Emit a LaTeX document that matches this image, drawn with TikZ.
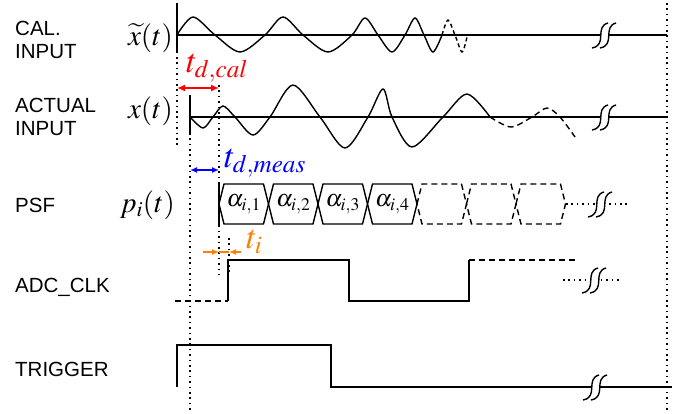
\documentclass[tikz,border=0pt]{standalone}
\usepackage{mathptmx}
\usepackage{fontspec}
\setmainfont{Liberation Sans}
\usepackage{tikz}
\usetikzlibrary{arrows.meta}
\definecolor{calred}{RGB}{255,0,0}
\definecolor{measblue}{RGB}{0,0,255}
\definecolor{tiorange}{RGB}{255,128,0}
\tikzset{
  sig/.style={line width=1.4pt, color=black},
  sigdash/.style={sig, dash pattern=on 6pt off 4pt},
  guide/.style={line width=1.2pt, dash pattern=on 1.6pt off 3.8pt},
  rowname/.style={anchor=base west, align=left, inner sep=0pt,
    font=\fontsize{20.5}{23}\selectfont},
  signame/.style={anchor=base east, inner sep=0pt, font=\fontsize{29}{31}\selectfont},
  cell/.style={inner sep=0pt, font=\fontsize{24}{26}\selectfont},
  delay/.style={anchor=base west, inner sep=0pt, font=\fontsize{34}{36}\selectfont},
  redarrow/.style={{Latex[length=8pt,width=7pt]}-{Latex[length=8pt,width=7pt]},
    line width=1.5pt, color=calred},
  bluearrow/.style={{Latex[length=7pt,width=6pt]}-{Latex[length=7pt,width=6pt]},
    line width=1.5pt, color=measblue},
  orarrow/.style={-{Latex[length=7pt,width=6pt]}, line width=1.5pt, color=tiorange}
}
\newcommand{\axisbreak}[1]{%
  \begin{scope}[shift={#1}]
    \fill[white] (-8,13) .. controls (8,10) and (-6,-8) .. (8,-12)
      -- (16,-12) .. controls (2,-8) and (16,10) .. (0,13) -- cycle;
    \draw[sig] (-8,13) .. controls (8,10) and (-6,-8) .. (8,-12);
    \draw[sig] (0,13) .. controls (16,10) and (2,-8) .. (16,-12);
  \end{scope}}

\begin{document}
\begin{tikzpicture}[x=1pt, y=-1pt]
  \useasboundingbox (0,0) rectangle (686,413);

  \node[rowname] (calname) at (15,58) {CAL.\\INPUT};
  \node[rowname] (actname) at (15,135) {ACTUAL\\INPUT};
  \node[rowname] (psfname) at (15,212) {PSF};
  \node[rowname] (clkname) at (15,292) {ADC\_CLK};
  \node[rowname] (trigname) at (15,376) {TRIGGER};

  \node[signame] (calsig) at (173,45) {$\widetilde{x}(t)$};
  \node[signame] (actsig) at (173,118) {$x(t)$};
  \node[signame] (psfsig) at (175,212) {$p_i(t)$};

  \draw[guide] (177,3) -- (177,147);
  \draw[guide] (190,95) -- (190,413);
  \draw[guide] (219,85) -- (219,275);
  \draw[guide] (229,238) -- (229,272);
  \draw[guide] (667,3) -- (667,413);

  \draw[sig] (177,5) -- (177,52);
  \draw[sig] (177,35) -- (667,35);
  \draw[sig] plot[smooth] coordinates {(177,35) (193,17) (215,35) (240,52) (265,35)
    (283,17) (303,35) (328,52) (352,35) (365,18) (378,35) (392,52) (405,35)
    (415,18) (424,35) (433,52) (442,35)};
  \draw[sigdash, dash pattern=on 4pt off 3pt] plot[smooth] coordinates {(442,35) (448,20)
    (455,35) (462,52) (467,37)};
  \axisbreak{(600,35)}

  \draw[sig] (190,95) -- (190,135);
  \draw[sig] (190,117) -- (667,117);
  \draw[sig] plot[smooth] coordinates {(190,117) (203,128) (213,117) (223,106)
    (235,117) (253,135) (270,117) (293,85) (320,117) (345,148) (368,117)
    (383,89) (392,117) (412,147) (443,117) (467,94) (490,117)};
  \draw[sigdash] plot[smooth] coordinates {(490,117) (511,127) (532,117)
    (547,108) (560,117) (575,137)};
  \axisbreak{(600,117)}

  \draw[sig] (219,183) -- (219,225);
  \foreach \a/\k in {219/1, 268.5/2, 318/3, 367.5/4} {
    \draw[sig] (\a,204) -- ++(5,-20) -- ++(39.5,0) -- ++(5,20)
      -- ++(-5,20) -- ++(-39.5,0) -- cycle;
    \node[cell] (alpha\k) at (\a+24.75,204) {$\alpha_{i,\k}$};
  }
  \foreach \a in {417, 466.5, 516}
    \draw[sigdash] (\a,204) -- ++(5,-20) -- ++(39.5,0) -- ++(5,20)
      -- ++(-5,20) -- ++(-39.5,0) -- cycle;
  \draw[guide] (566,204) -- (630,204);
  \axisbreak{(596,204)}

  \draw[sigdash] (175,301) -- (228,301);
  \draw[sig] (228,301) -- (228,260) -- (349,260) -- (349,301) -- (469,301) -- (469,260);
  \draw[sigdash] (469,260) -- (575,260);
  \draw[guide] (563,280) -- (620,280);
  \axisbreak{(590,280)}

  \draw[sig] (177,387) -- (177,345) -- (331,345) -- (331,387) -- (672,387);
  \axisbreak{(591,387)}

  \coordinate (cal0) at (177,88);
  \coordinate (cal1) at (219,88);
  \coordinate (meas0) at (190,170);
  \coordinate (meas1) at (219,170);
  \coordinate (ti0) at (203,252);
  \coordinate (ti1) at (219,252);
  \coordinate (ti2) at (229,252);
  \coordinate (ti3) at (241,252);
  \draw[redarrow] (cal0) -- (cal1);
  \draw[bluearrow] (meas0) -- (meas1);
  \draw[orarrow] (ti0) -- (ti1);
  \draw[orarrow] (ti3) -- (ti2);
  \draw[line width=1.5pt, color=tiorange] (ti1) -- (ti2);

  \node[delay, text=calred] (tdcal) at (186,72) {$t_{d,cal}$};
  \node[delay, text=measblue] (tdmeas) at (224,167) {$t_{d,meas}$};
  \node[delay, text=tiorange] (tinode) at (246,248) {$t_i$};
\end{tikzpicture}
\end{document}
